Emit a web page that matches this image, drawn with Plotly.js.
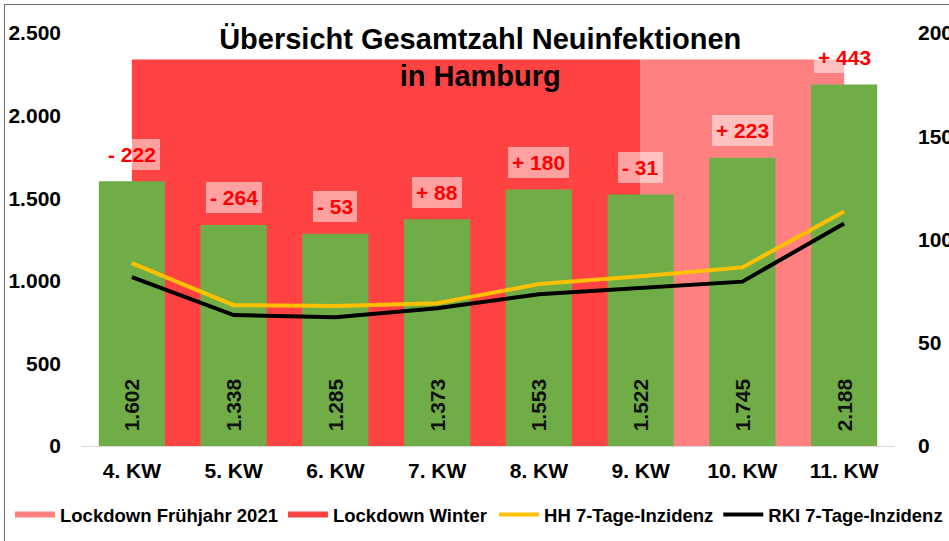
<!DOCTYPE html>
<html>
<head>
<meta charset="utf-8">
<script src="https://cdn.plot.ly/plotly-3.0.1.min.js"></script>
<style>
  html, body { margin: 0; padding: 0; background: #fff; }
  #chart { width: 949px; height: 541px; position: absolute; left: 0; top: 0; }
  #frame { position: absolute; left: 4px; top: 4px; width: 960px; height: 560px;
           border-left: 1.5px solid #6b6b6b; border-top: 1.5px solid #6b6b6b; pointer-events: none; }
</style>
</head>
<body>
<div id="chart"></div>
<div id="frame"></div>
<script>
// ---- data ----
const categories = ['4. KW', '5. KW', '6. KW', '7. KW', '8. KW', '9. KW', '10. KW', '11. KW'];
const newInfections = [1602, 1338, 1285, 1373, 1553, 1522, 1745, 2188];
const changeVsPrevWeek = [-222, -264, -53, 88, 180, -31, 223, 443];
const hhIncidence = [88.6, 68.2, 67.8, 69.1, 78.4, 82.2, 86.5, 113.5];
const rkiIncidence = [81.8, 63.4, 62.3, 66.7, 73.5, 76.5, 79.6, 107.8];
const winterCategories = ['4. KW', '9. KW'];
const winterLevel = [2340, 2340];
const springCategories = ['9. KW', '11. KW'];
const springLevel = [2340, 2340];
const leftTicks = [0, 500, 1000, 1500, 2000, 2500];
const rightTicks = [0, 50, 100, 150, 200];

const FONT = '"Liberation Sans", Arial, sans-serif';

const traces = [
  {
    type: 'scatter', mode: 'none', name: 'Lockdown Winter',
    x: winterCategories, y: winterLevel, fill: 'tozeroy',
    fillcolor: '#FF4343', legend: 'legend', legendrank: 2, hoverinfo: 'skip'
  },
  {
    type: 'scatter', mode: 'none', name: 'Lockdown Frühjahr 2021',
    x: springCategories, y: springLevel, fill: 'tozeroy',
    fillcolor: '#FF8080', legend: 'legend', legendrank: 1, hoverinfo: 'skip'
  },
  {
    type: 'bar', name: 'Neuinfektionen', x: categories, y: newInfections, yaxis: 'y2',
    marker: { color: '#70AD47' }, showlegend: false,
    texttemplate: '\u00a0\u00a0%{y:,}', textposition: 'inside', insidetextanchor: 'start',
    textangle: -90, textfont: { family: FONT, size: 21, color: '#111', weight: 'bold' },
    constraintext: 'none'
  },
  {
    type: 'scatter', mode: 'lines', name: 'HH 7-Tage-Inzidenz',
    x: categories, y: hhIncidence, yaxis: 'y3',
    line: { color: '#FFC000', width: 4 }, legend: 'legend2', legendrank: 3
  },
  {
    type: 'scatter', mode: 'lines', name: 'RKI 7-Tage-Inzidenz',
    x: categories, y: rkiIncidence, yaxis: 'y3',
    line: { color: '#000000', width: 4 }, legend: 'legend2', legendrank: 4
  }
];

const annotations = categories.map((c, i) => ({
  x: c, y: newInfections[i], xref: 'x', yref: 'y2',
  yshift: 27, yanchor: 'middle', xanchor: 'center', showarrow: false,
  text: (changeVsPrevWeek[i] > 0 ? '+ ' : '- ') + Math.abs(changeVsPrevWeek[i]),
  font: { family: FONT, size: 21, color: '#FF0000', weight: 'bold' },
  bgcolor: 'rgba(255,255,255,0.5)', borderpad: 4, borderwidth: 0
}));

const tickFont = { family: FONT, size: 21, color: '#000', weight: 'bold' };
const legendFont = { family: FONT, size: 18.5, color: '#000', weight: 'bold' };

const layout = {
  width: 949, height: 541,
  margin: { l: 81, r: 54, t: 33, b: 95, autoexpand: false },
  paper_bgcolor: '#fff', plot_bgcolor: 'rgba(0,0,0,0)',
  separators: ',.',
  bargap: 0.35,
  showlegend: true,
  title: {
    text: 'Übersicht Gesamtzahl Neuinfektionen<br>in Hamburg',
    x: 0.506, xanchor: 'center', xref: 'container',
    y: 0.91, yanchor: 'top', yref: 'container',
    font: { family: FONT, size: 29, color: '#000', weight: 'bold' }
  },
  xaxis: {
    type: 'category', categoryarray: categories, categoryorder: 'array',
    showgrid: false, zeroline: false, showline: true, linecolor: '#d9d9d9', linewidth: 1,
    ticks: '', ticklabelstandoff: 6, tickfont: tickFont, fixedrange: true, automargin: false
  },
  yaxis: {
    range: [0, 2500], tickvals: leftTicks, tickformat: ',d',
    showgrid: false, zeroline: false, showline: false, ticks: '',
    ticklabelstandoff: 19, tickfont: tickFont, fixedrange: true, automargin: false
  },
  yaxis2: {
    range: [0, 2500], overlaying: 'y', side: 'left', visible: false,
    showgrid: false, zeroline: false, fixedrange: true, automargin: false
  },
  yaxis3: {
    range: [0, 200], tickvals: rightTicks, overlaying: 'y', side: 'right',
    showgrid: false, zeroline: false, showline: false, ticks: '',
    ticklabelstandoff: 22, tickfont: tickFont, fixedrange: true, automargin: false
  },
  legend: {
    orientation: 'h', x: -0.0872, xanchor: 'left', y: -0.167, yanchor: 'middle',
    font: legendFont, bgcolor: 'rgba(0,0,0,0)', itemwidth: 40, tracegroupgap: 0
  },
  legend2: {
    orientation: 'h', x: 0.5074, xanchor: 'left', y: -0.167, yanchor: 'middle',
    font: legendFont, bgcolor: 'rgba(0,0,0,0)', itemwidth: 40, tracegroupgap: 0
  },
  annotations: annotations
};

Plotly.newPlot('chart', traces, layout, { displayModeBar: false, staticPlot: true });
</script>
</body>
</html>
